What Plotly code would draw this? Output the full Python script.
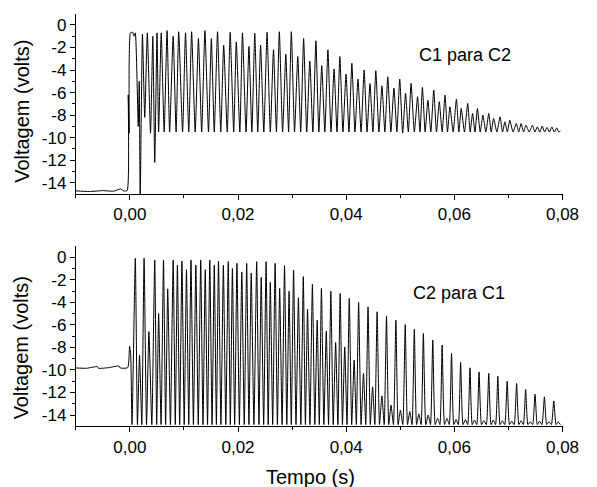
import plotly.graph_objects as go

# ---------------- data (turning points) ----------------
top_time = [
    -0.0100, -0.0075, -0.0050, -0.0030, -0.0017, -0.0012, -0.0005, -0.0003, -0.00013, 0.00011,
    0.00053, 0.00077, 0.00101, 0.00155, 0.00173, 0.00191, 0.00233, 0.00275, 0.00323, 0.00382,
    0.00424, 0.00460, 0.00502, 0.00532, 0.00580, 0.00634, 0.00688, 0.00735, 0.00801, 0.00855,
    0.00903, 0.00975, 0.01029, 0.01089, 0.01142, 0.01208, 0.01268, 0.01328, 0.01388, 0.01454,
    0.01507, 0.01561, 0.01621, 0.01681, 0.01735, 0.01801, 0.01855, 0.01920, 0.01968, 0.02034,
    0.02082, 0.02148, 0.02202, 0.02256, 0.02310, 0.02365, 0.02417, 0.02477, 0.02537, 0.02597,
    0.02656, 0.02710, 0.02764, 0.02824, 0.02884, 0.02935, 0.02986, 0.03045, 0.03105, 0.03159,
    0.03213, 0.03270, 0.03327, 0.03384, 0.03440, 0.03494, 0.03548, 0.03605, 0.03662, 0.03719,
    0.03776, 0.03830, 0.03883, 0.03940, 0.03997, 0.04051, 0.04105, 0.04162, 0.04218, 0.04275,
    0.04332, 0.04386, 0.04440, 0.04494, 0.04548, 0.04605, 0.04661, 0.04715, 0.04769, 0.04826,
    0.04883, 0.04937, 0.04990, 0.05044, 0.05098, 0.05149, 0.05200, 0.05260, 0.05320, 0.05365,
    0.05409, 0.05460, 0.05511, 0.05565, 0.05619, 0.05670, 0.05721, 0.05775, 0.05828, 0.05873,
    0.05918, 0.05978, 0.06038, 0.06083, 0.06127, 0.06187, 0.06247, 0.06292, 0.06337, 0.06382,
    0.06427, 0.06478, 0.06528, 0.06582, 0.06636, 0.06681, 0.06726, 0.06786, 0.06846, 0.06891,
    0.06935, 0.06980, 0.07025, 0.07085, 0.07145, 0.07190, 0.07235, 0.07280, 0.07324, 0.07384,
    0.07444, 0.07489, 0.07534, 0.07579, 0.07624, 0.07669, 0.07713, 0.07758, 0.07803, 0.07848,
    0.07893, 0.07930, 0.07960,
]
top_volt = [
    -14.72, -14.78, -14.70, -14.75, -14.55, -14.72, -14.70, -6.2, -9.6, -0.7,
    -0.65, -1.0, -0.7, -9.0, -5.0, -15.3, -0.8, -8.2, -0.7, -9.6,
    -1.0, -12.2, -0.7, -9.5, -0.7, -9.5, -0.5, -9.5, -1.0, -9.5,
    -0.6, -9.5, -0.7, -9.5, -0.6, -9.5, -1.2, -9.5, -0.5, -9.5,
    -1.2, -9.5, -0.6, -9.5, -1.8, -9.5, -0.65, -9.5, -1.5, -9.5,
    -0.7, -9.5, -1.9, -9.5, -0.74, -9.5, -1.78, -9.5, -0.65, -9.5,
    -2.2, -9.5, -0.6, -9.5, -2.6, -9.5, -0.6, -9.5, -2.8, -9.5,
    -1.2, -9.5, -3.2, -9.5, -1.4, -9.5, -3.6, -9.5, -2.2, -9.5,
    -3.9, -9.5, -2.8, -9.5, -4.36, -9.5, -3.4, -9.5, -4.8, -9.5,
    -4.0, -9.5, -5.2, -9.5, -4.06, -9.5, -5.4, -9.5, -4.6, -9.5,
    -5.6, -9.5, -4.8, -9.6, -6.07, -9.5, -5.19, -9.5, -6.37, -9.5,
    -5.54, -9.5, -6.67, -9.5, -5.78, -9.5, -6.81, -9.5, -6.22, -9.5,
    -7.26, -9.5, -6.58, -9.5, -7.41, -9.5, -6.96, -9.5, -7.85, -9.5,
    -7.41, -9.5, -8.0, -9.5, -7.85, -9.5, -8.3, -9.5, -8.15, -9.5,
    -8.59, -9.5, -8.44, -9.5, -8.74, -9.5, -8.74, -9.5, -8.89, -9.5,
    -8.89, -9.5, -9.04, -9.5, -8.98, -9.5, -9.1, -9.5, -9.04, -9.5,
    -9.13, -9.5, -9.4,
]

bot_time = [
    -0.0100, -0.0080, -0.0060, -0.0058, -0.0040, -0.0020, -0.0018, -0.0004, -0.00005, 0.00015,
    0.00040, 0.00101, 0.00140, 0.00179, 0.00221, 0.00263, 0.00308, 0.00352, 0.00406, 0.00460,
    0.00496, 0.00532, 0.00577, 0.00622, 0.00661, 0.00700, 0.00750, 0.00801, 0.00840, 0.00879,
    0.00921, 0.00963, 0.01005, 0.01047, 0.01089, 0.01130, 0.01175, 0.01220, 0.01265, 0.01310,
    0.01352, 0.01394, 0.01436, 0.01478, 0.01520, 0.01561, 0.01600, 0.01639, 0.01684, 0.01729,
    0.01774, 0.01819, 0.01858, 0.01896, 0.01938, 0.01980, 0.02025, 0.02070, 0.02115, 0.02160,
    0.02202, 0.02244, 0.02294, 0.02345, 0.02387, 0.02429, 0.02474, 0.02519, 0.02558, 0.02597,
    0.02641, 0.02686, 0.02728, 0.02770, 0.02815, 0.02860, 0.02902, 0.02944, 0.02985, 0.03027,
    0.03072, 0.03117, 0.03162, 0.03207, 0.03246, 0.03285, 0.03330, 0.03375, 0.03420, 0.03464,
    0.03503, 0.03542, 0.03587, 0.03632, 0.03674, 0.03716, 0.03760, 0.03805, 0.03847, 0.03889,
    0.03931, 0.03973, 0.04015, 0.04057, 0.04102, 0.04147, 0.04188, 0.04230, 0.04275, 0.04320,
    0.04362, 0.04404, 0.04446, 0.04488, 0.04530, 0.04572, 0.04616, 0.04661, 0.04703, 0.04745,
    0.04787, 0.04829, 0.04874, 0.04919, 0.04960, 0.05002, 0.05047, 0.05092, 0.05134, 0.05176,
    0.05218, 0.05260, 0.05302, 0.05344, 0.05386, 0.05427, 0.05472, 0.05517, 0.05559, 0.05601,
    0.05646, 0.05691, 0.05733, 0.05774, 0.05819, 0.05864, 0.05906, 0.05948, 0.05990, 0.06032,
    0.06074, 0.06116, 0.06160, 0.06205, 0.06247, 0.06289, 0.06331, 0.06373, 0.06415, 0.06457,
    0.06502, 0.06546, 0.06591, 0.06636, 0.06678, 0.06720, 0.06762, 0.06804, 0.06845, 0.06887,
    0.06932, 0.06977, 0.07019, 0.07061, 0.07106, 0.07151, 0.07193, 0.07235, 0.07277, 0.07318,
    0.07360, 0.07402, 0.07447, 0.07492, 0.07534, 0.07576, 0.07620, 0.07665, 0.07707, 0.07749,
    0.07794, 0.07839, 0.07881, 0.07920, 0.07960,
]
bot_volt = [
    -9.82, -9.85, -9.70, -9.85, -9.80, -9.65, -9.82, -9.80, -7.9, -8.6,
    -14.85, -0.09, -14.85, -8.7, -14.85, -0.09, -14.85, -6.6, -14.85, -0.24,
    -14.85, -5.0, -14.85, -0.24, -14.85, -2.8, -14.85, -0.24, -14.85, -0.7,
    -14.85, -0.33, -14.85, -1.1, -14.85, -0.24, -14.85, -0.7, -14.85, -0.24,
    -14.85, -1.1, -14.85, -0.24, -14.85, -0.7, -14.85, -0.33, -14.85, -0.7,
    -14.85, -0.39, -14.85, -1.0, -14.85, -0.54, -14.85, -1.3, -14.85, -0.54,
    -14.85, -1.4, -14.85, -0.39, -14.85, -1.78, -14.85, -0.39, -14.85, -2.22,
    -14.85, -0.54, -14.85, -2.76, -14.85, -0.74, -14.85, -3.0, -14.85, -1.13,
    -14.85, -3.59, -14.85, -1.72, -14.85, -4.6, -14.85, -2.4, -14.85, -5.57,
    -14.85, -2.76, -14.85, -6.55, -14.85, -3.0, -14.85, -7.56, -14.85, -3.2,
    -14.85, -7.95, -14.85, -3.65, -14.85, -9.13, -14.85, -4.0, -14.85, -10.3,
    -14.85, -4.4, -14.85, -11.5, -14.85, -4.84, -14.85, -12.3, -14.85, -5.2,
    -14.85, -13.13, -14.85, -5.58, -14.85, -13.57, -14.85, -5.97, -14.85, -13.7,
    -14.85, -6.4, -14.85, -13.9, -14.85, -6.76, -14.85, -14.0, -14.85, -7.35,
    -14.85, -14.3, -14.85, -7.8, -14.85, -14.3, -14.85, -8.53, -14.85, -14.4,
    -14.85, -9.33, -14.85, -14.4, -14.85, -9.81, -14.85, -14.45, -14.85, -10.17,
    -14.85, -14.5, -14.85, -10.3, -14.85, -14.45, -14.85, -10.55, -14.85, -14.5,
    -14.85, -11.0, -14.85, -14.55, -14.85, -11.2, -14.85, -14.5, -14.85, -11.73,
    -14.85, -14.6, -14.85, -12.15, -14.85, -14.55, -14.85, -12.39, -14.85, -14.6,
    -14.85, -12.75, -14.85, -14.6, -14.85,
]

x_tick_vals = [0.00, 0.02, 0.04, 0.06, 0.08]
x_tick_text = ["0,00", "0,02", "0,04", "0,06", "0,08"]
x_minor_vals = [-0.01, 0.01, 0.03, 0.05, 0.07]
y_tick_vals = [0, -2, -4, -6, -8, -10, -12, -14]
y_tick_text = ["0", "-2", "-4", "-6", "-8", "-10", "-12", "-14"]
y_minor_vals = [-1, -3, -5, -7, -9, -11, -13]

panel_labels = ["C1 para C2", "C2 para C1"]
y_title = "Voltagem (volts)"
x_title = "Tempo (s)"

# ---------------- figure ----------------
W, H = 597, 487
FONT = "Arial, Liberation Sans, sans-serif"

fig = go.Figure()
fig.add_trace(go.Scatter(x=top_time, y=top_volt, mode="lines",
                         line=dict(color="black", width=1, shape="spline", smoothing=0.5),
                         xaxis="x", yaxis="y", showlegend=False, hoverinfo="skip"))
fig.add_trace(go.Scatter(x=bot_time, y=bot_volt, mode="lines",
                         line=dict(color="black", width=1, shape="spline", smoothing=0.5),
                         xaxis="x2", yaxis="y2", showlegend=False, hoverinfo="skip"))

xdom = [78 / W, 579 / W]
top_dom = [1 - 194.0 / H, 1 - 13.7 / H]
bot_dom = [1 - 426.3 / H, 1 - 246.0 / H]

def xaxis_cfg(anchor):
    return dict(domain=xdom, anchor=anchor, range=[-0.01, 0.08],
                showline=True, linecolor="black", linewidth=1, mirror=False,
                showgrid=False, zeroline=False,
                ticks="outside", ticklen=5, tickwidth=1, tickcolor="black",
                tickvals=x_tick_vals, ticktext=x_tick_text,
                tickfont=dict(family=FONT, size=17, color="black"),
                minor=dict(tickvals=x_minor_vals, ticks="outside", ticklen=3,
                           tickwidth=1, tickcolor="black", showgrid=False))

def yaxis_cfg(anchor, dom):
    return dict(domain=dom, anchor=anchor, range=[-15, 1],
                showline=True, linecolor="black", linewidth=1, mirror=False,
                showgrid=False, zeroline=False,
                ticks="outside", ticklen=5, tickwidth=1, tickcolor="black",
                tickvals=y_tick_vals, ticktext=y_tick_text,
                tickfont=dict(family=FONT, size=17, color="black"),
                minor=dict(tickvals=y_minor_vals, ticks="outside", ticklen=3,
                           tickwidth=1, tickcolor="black", showgrid=False))

# initial size leaves room for the default 8px body margin, so no scrollbar ever appears;
# the post script then removes the margin and sets the final 597x487 size
fig.update_layout(
    width=W - 16, height=H - 16, autosize=False,
    margin=dict(l=0, r=0, t=0, b=0),
    paper_bgcolor="white", plot_bgcolor="white",
    xaxis=xaxis_cfg("y"), yaxis=yaxis_cfg("x", top_dom),
    xaxis2=xaxis_cfg("y2"), yaxis2=yaxis_cfg("x2", bot_dom),
    font=dict(family=FONT, color="black"),
)

ann = [
    dict(text=y_title, x=22.5 / W, y=1 - 111 / H, textangle=-90, font=dict(size=20)),
    dict(text=y_title, x=22.0 / W, y=1 - 348 / H, textangle=-90, font=dict(size=20)),
    dict(text=x_title, x=320 / W, y=1 - 477 / H, font=dict(size=20)),
    dict(text=panel_labels[0], x=479 / W, y=1 - 55 / H, font=dict(size=18)),
    dict(text=panel_labels[1], x=472.5 / W, y=1 - 293 / H, font=dict(size=18)),
]
for a in ann:
    a.update(xref="paper", yref="paper", showarrow=False, xanchor="center", yanchor="middle")
    a["font"].update(family=FONT, color="black")
fig.update_layout(annotations=ann)

post = (
    "document.documentElement.style.margin='0';"
    "document.documentElement.style.overflow='hidden';"
    "document.body.style.margin='0';document.body.style.padding='0';"
    "document.body.style.overflow='hidden';"
    "var gd=document.getElementById('{plot_id}');"
    "gd.style.width='597px';gd.style.height='487px';"
    "Plotly.relayout(gd,{width:597,height:487});"
)
fig.write_html("out.html", config={"displayModeBar": False, "responsive": False},
               post_script=post)
